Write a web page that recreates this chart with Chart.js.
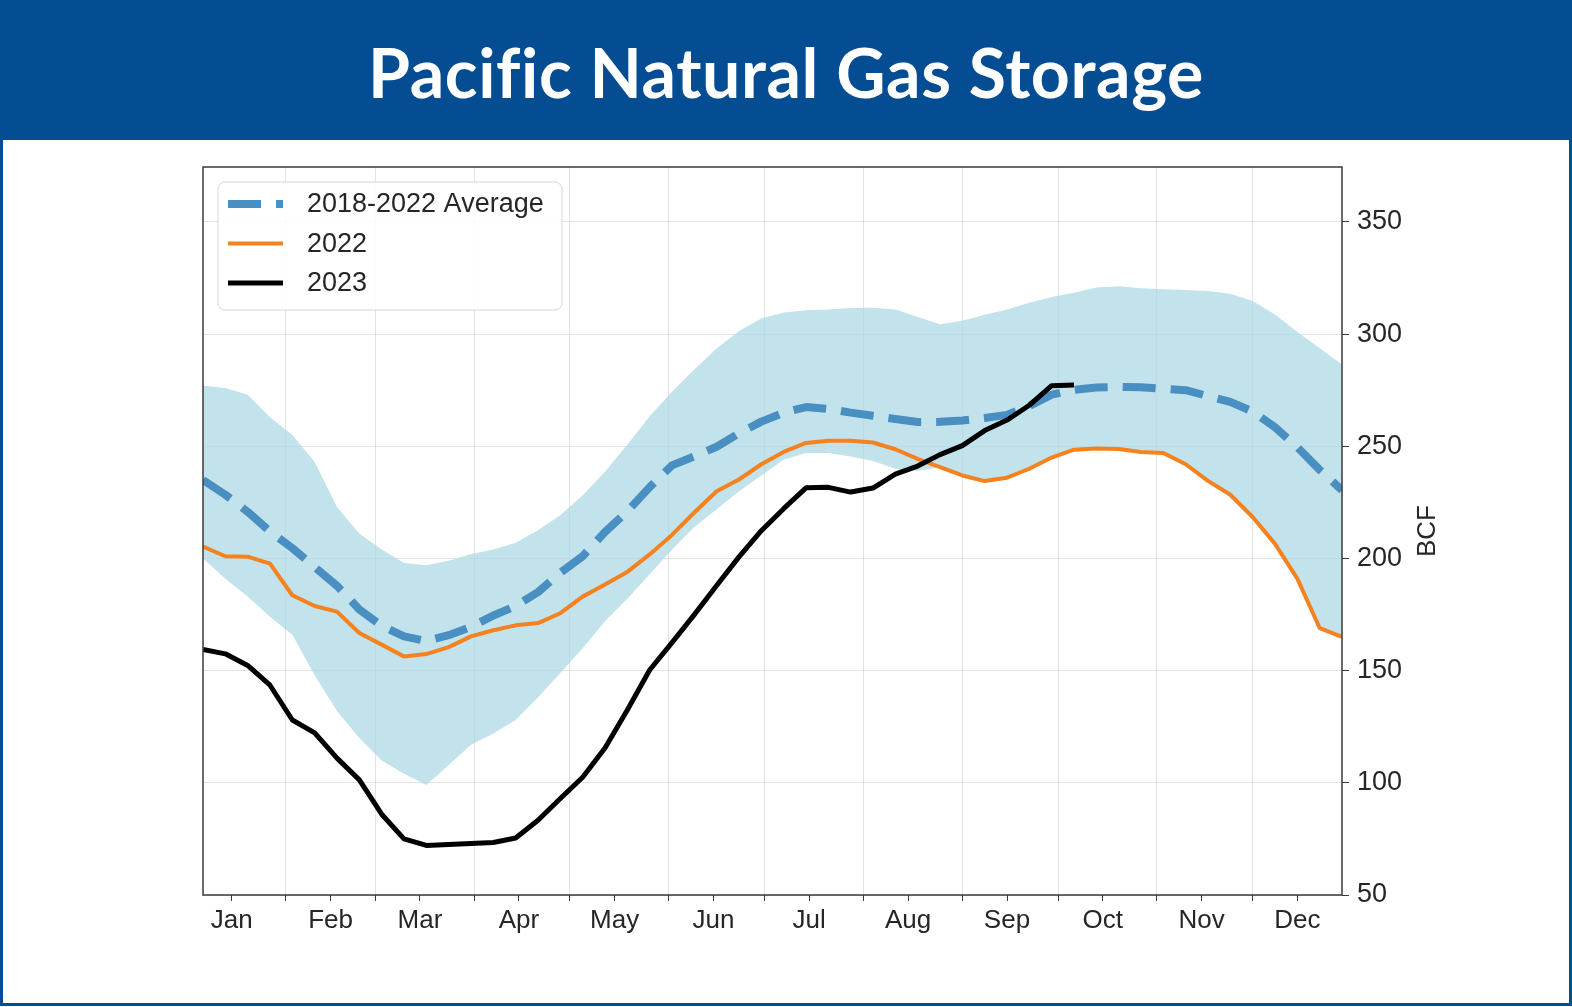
<!DOCTYPE html>
<html>
<head>
<meta charset="utf-8">
<title>Pacific Natural Gas Storage</title>
<script src="https://cdn.jsdelivr.net/npm/chart.js@4.4.1/dist/chart.umd.min.js"></script>
<style>
  html, body { margin: 0; padding: 0; background: #fff; }
  body { width: 1572px; height: 1007px; position: relative; overflow: hidden; }
  .frame { position: absolute; left: 0; top: 0; width: 1566px; height: 1000px; border: 3px solid #044d92; }
  .header {
    position: absolute; left: 0; top: 0; width: 1572px; height: 140px;
    background: #044d92; color: #fff; text-align: center; line-height: 144px;
    font-family: Lato, "Open Sans", sans-serif; font-weight: 700; font-size: 68px; letter-spacing: 0.6px;
  }
  #chart { position: absolute; left: 0; top: 140px; }
</style>
</head>
<body>
<div class="frame"></div>
<div class="header">Pacific Natural Gas Storage</div>
<canvas id="chart" width="1572" height="867"></canvas>

<script>
// Semanas (dia do ano de cada leitura semanal)
const weekDay = [5, 12, 19, 26, 33, 40, 47, 54, 61, 68, 75, 82, 89, 96, 103, 110, 117, 124, 131, 138,
  145, 152, 159, 166, 173, 180, 187, 194, 201, 208, 215, 222, 229, 236, 243, 250, 257, 264, 271, 278,
  285, 292, 299, 306, 313, 320, 327, 334, 341, 348, 355, 362];

// Faixa 2018-2022 (max / min) e media, em BCF
const max5yr = [277, 276, 273, 263, 255, 243, 223, 211, 204, 198, 197, 199, 202, 204, 207, 212.6, 219.3, 228.2, 238.7, 250.7,
  263.4, 274.3, 284.2, 293.6, 301.4, 307, 309.7, 310.7, 311, 311.6, 311.8, 311, 307.6, 304.4, 306, 308.6, 311, 314, 316.5, 318.5,
  320.8, 321.3, 320.4, 320, 319.7, 319.2, 318, 314.8, 308.8, 301, 293.7, 286.5];
const min5yr = [200, 191, 183, 174, 166, 148, 132, 120, 110, 104, 99, 108, 117, 122, 128, 138, 149, 160, 172, 182,
  193, 204, 214, 222, 230, 237, 244, 247, 247, 245.5, 243.5, 240, 239, 240.7, 237, 234.5, 236, 240, 245, 248.5,
  249, 248.8, 247.5, 247, 242, 234.6, 228.4, 218.5, 206.5, 191, 169, 165];
const avg5yr = [235, 228.4, 220.8, 212, 204.6, 196.2, 187.8, 177.3, 170, 165.3, 163.2, 165.8, 169.5, 174.6, 178.8, 185, 193.6, 201, 211.8, 221,
  231.8, 241.5, 245.5, 249.8, 255.8, 261, 265, 267.5, 266.7, 265, 263.6, 262.2, 260.8, 260.9, 261.5, 262.6, 264, 268, 273, 275.2,
  276.2, 276.5, 276.3, 275.7, 275, 272.4, 269.8, 265.5, 258.5, 249.6, 239.5, 230.4];

const storage2022 = [205.3, 201, 200.8, 197.7, 183.6, 178.8, 176.3, 166.8, 161.6, 156.3, 157.4, 160.5, 165.3, 168, 170.2, 171.2, 175.6, 183, 188.4, 194,
  201.8, 210.5, 220.5, 230, 235.2, 242, 247.5, 251.5, 252.5, 252.5, 251.7, 248.7, 244.4, 240.7, 237, 234.5, 236, 240, 245, 248.5,
  249, 248.8, 247.5, 247, 242, 234.6, 228.4, 218.5, 206.5, 191, 169, 165];
const storage2023 = [159.5, 157.5, 152.3, 143.5, 128, 122.3, 111, 101.3, 86, 75, 72.1, 72.5, 73, 73.4, 75.4, 83.3, 93, 102.5, 115.5, 132.5,
  150.3, 162.5, 175, 188, 200.7, 212.4, 222.2, 231.5, 231.7, 229.6, 231.4, 237.6, 241.2, 246.3, 250.3, 257, 261.7, 268.3, 277, 277.3,
  null, null, null, null, null, null, null, null, null, null, null, null];

// Eixos
const monthNames = ['Jan', 'Feb', 'Mar', 'Apr', 'May', 'Jun', 'Jul', 'Aug', 'Sep', 'Oct', 'Nov', 'Dec'];
const monthMid = [14, 45, 73, 104, 134, 165, 195, 226, 257, 287, 318, 348];
const monthStart = [31, 59, 90, 120, 151, 181, 212, 243, 273, 304, 334];
const yTicks = [50, 100, 150, 200, 250, 300, 350];

const FONT = 'Liberation Sans, Arial, sans-serif';
const TXT = '#262626';
const GRID = 'rgba(0,0,0,0.11)';

function pontos(valores) {
  return valores.map((v, i) => ({ x: weekDay[i], y: v }));
}

const series = [
  { label: '2018-2022 Average', color: '#4a8fc2', width: 8, dash: [33, 15] },
  { label: '2022', color: '#f5821f', width: 4, dash: [] },
  { label: '2023', color: '#000000', width: 5, dash: [] }
];

// Legenda desenhada dentro do grafico
const legendaPlugin = {
  id: 'legenda',
  afterDatasetsDraw(chart) {
    const c = chart.ctx;
    const a = chart.chartArea;
    const x0 = a.left + 15, y0 = a.top + 15, w = 344, h = 128;
    c.save();
    c.beginPath();
    c.roundRect(x0, y0, w, h, 7);
    c.fillStyle = 'rgba(255,255,255,0.85)';
    c.fill();
    c.strokeStyle = '#d6d6d6';
    c.lineWidth = 1;
    c.stroke();
    c.font = '27px ' + FONT;
    c.textBaseline = 'middle';
    series.forEach((s, i) => {
      const y = y0 + 22 + i * 39.5;
      c.beginPath();
      c.setLineDash(s.dash);
      c.strokeStyle = s.color;
      c.lineWidth = s.width;
      c.moveTo(x0 + 10, y);
      c.lineTo(x0 + 65, y);
      c.stroke();
      c.setLineDash([]);
      c.fillStyle = TXT;
      c.fillText(s.label, x0 + 89, y + 1);
    });
    c.restore();
  }
};

// Moldura (spines) e titulo do eixo y
const molduraPlugin = {
  id: 'moldura',
  afterDraw(chart) {
    const c = chart.ctx;
    const a = chart.chartArea;
    c.save();
    c.strokeStyle = '#3a3a3a';
    c.lineWidth = 1.5;
    c.strokeRect(a.left, a.top, a.right - a.left, a.bottom - a.top);
    c.translate(a.right + 86, (a.top + a.bottom) / 2);
    c.rotate(-Math.PI / 2);
    c.font = '26px ' + FONT;
    c.fillStyle = TXT;
    c.textAlign = 'center';
    c.textBaseline = 'middle';
    c.fillText('BCF', 0, 0);
    c.restore();
  }
};

new Chart(document.getElementById('chart'), {
  type: 'line',
  data: {
    datasets: [
      { label: '2023', data: pontos(storage2023), borderColor: series[2].color, borderWidth: series[2].width, spanGaps: false },
      { label: '2022', data: pontos(storage2022), borderColor: series[1].color, borderWidth: series[1].width },
      { label: '2018-2022 Average', data: pontos(avg5yr), borderColor: series[0].color, borderWidth: series[0].width, borderDash: series[0].dash },
      { label: 'max', data: pontos(max5yr), borderWidth: 0, borderColor: 'rgba(0,0,0,0)', backgroundColor: 'rgba(173,216,230,0.75)', fill: '+1' },
      { label: 'min', data: pontos(min5yr), borderWidth: 0, borderColor: 'rgba(0,0,0,0)' }
    ]
  },
  options: {
    responsive: false,
    animation: false,
    devicePixelRatio: 1,
    layout: { padding: { left: 203, top: 27, right: 0, bottom: 0 } },
    elements: {
      point: { radius: 0, hoverRadius: 0 },
      line: { tension: 0, borderJoinStyle: 'round', fill: false }
    },
    plugins: {
      legend: { display: false },
      tooltip: { enabled: false }
    },
    scales: {
      x: {
        type: 'linear',
        min: 5,
        max: 362,
        afterBuildTicks: s => { s.ticks = monthStart.concat(monthMid).sort((a, b) => a - b).map(v => ({ value: v })); },
        afterFit: s => { s.height = 112; },
        border: { display: false },
        grid: {
          color: ctx => (ctx.tick && monthStart.includes(ctx.tick.value)) ? GRID : 'rgba(0,0,0,0)',
          tickColor: '#3a3a3a',
          tickLength: 6
        },
        ticks: {
          autoSkip: false,
          maxRotation: 0,
          padding: 4,
          color: TXT,
          font: { family: FONT, size: 26 },
          callback: v => { const i = monthMid.indexOf(v); return i >= 0 ? monthNames[i] : ''; }
        }
      },
      y: {
        position: 'right',
        min: 50,
        max: 374.5,
        afterBuildTicks: s => { s.ticks = yTicks.map(v => ({ value: v })); },
        afterFit: s => { s.width = 230; },
        border: { display: false },
        grid: { color: GRID, tickColor: '#3a3a3a', tickLength: 7 },
        ticks: {
          padding: 8,
          color: TXT,
          font: { family: FONT, size: 27 }
        }
      }
    }
  },
  plugins: [legendaPlugin, molduraPlugin]
});
</script>
</body>
</html>
